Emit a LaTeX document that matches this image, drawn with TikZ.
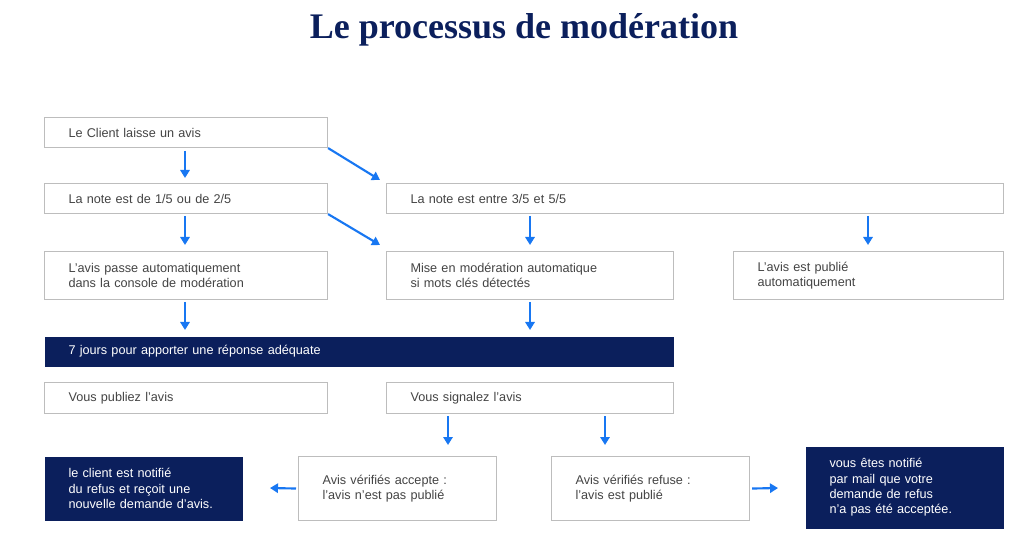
\documentclass[tikz,border=0pt]{standalone}
\usepackage{fontspec}
\setmainfont{Liberation Sans}
\usetikzlibrary{arrows.meta}
\definecolor{navy}{HTML}{0B1F5C}
\definecolor{arr}{HTML}{1877F2}
\definecolor{bord}{HTML}{BDBDBD}
\definecolor{txt}{HTML}{444444}
\begin{document}
\begin{tikzpicture}[x=0.75pt,y=-0.75pt,
  bx/.style args={#1/#2}{draw=bord,line width=0.8pt,fill=white,anchor=north west,minimum width=#1*0.75pt,minimum height=#2*0.75pt,
    text width=#1*0.75pt-36pt,inner xsep=18pt,inner ysep=0pt,align=left,text=txt,font=\fontsize{9.5}{11.5}\selectfont},
  nv/.style args={#1/#2}{bx=#1/#2,draw=none,fill=navy,text=white},
  ar/.style={draw=arr,line width=1.6pt,-{Triangle[length=6pt,width=7pt]}}]
\useasboundingbox (0,0) rectangle (1024,541);
\node[text=navy] (title) at (524,30) {\setmainfont{Liberation Serif}\fontsize{27}{30}\selectfont\bfseries Le processus de modération};
\node[bx=283/30] (b1) at (44,117) {Le Client laisse un avis};
\node[bx=283/30] (b2) at (44,183) {La note est de 1/5 ou de 2/5};
\node[bx=617/30] (b3) at (386,183) {La note est entre 3/5 et 5/5};
\node[bx=283/48] (b4) at (44,251) {L’avis passe automatiquement\\dans la console de modération};
\node[bx=287/48] (b5) at (386,251) {Mise en modération automatique\\si mots clés détectés};
\node[bx=270/48] (b6) at (733,251) {L’avis est publié\\automatiquement};
\node[nv=629/30] (bar) at (44,336) {7 jours pour apporter une réponse adéquate};
\node[bx=283/31] (b7) at (44,382) {Vous publiez l’avis};
\node[bx=287/31] (b8) at (386,382) {Vous signalez l’avis};
\node[nv=198/64] (n1) at (44,456) {le client est notifié\\du refus et reçoit une\\nouvelle demande d’avis.};
\node[bx=198/64] (b9) at (298,456) {Avis vérifiés accepte :\\l’avis n’est pas publié};
\node[bx=198/64] (b10) at (551,456) {Avis vérifiés refuse :\\l’avis est publié};
\node[nv=198/82] (n2) at (805,446) {vous êtes notifié\\par mail que votre\\demande de refus\\n’a pas été acceptée.};
\coordinate (c1) at (380,180);
\draw[ar] (185,151) -- (185,178);
\draw[ar] (b1.south east) -- (c1);
\draw[ar] (185,216) -- (185,245);
\draw[ar] (b2.south east) -- (380,245);
\draw[ar] (530,216) -- (530,245);
\draw[ar] (868,216) -- (868,245);
\draw[ar] (185,302) -- (185,330);
\draw[ar] (530,302) -- (530,330);
\draw[ar] (448,416) -- (448,445);
\draw[ar] (605,416) -- (605,445);
\draw[ar] (b9.west) ++(-2,0) -- (270,488);
\draw[ar] (b10.east) ++(2,0) -- (778,488);
\end{tikzpicture}
\end{document}
